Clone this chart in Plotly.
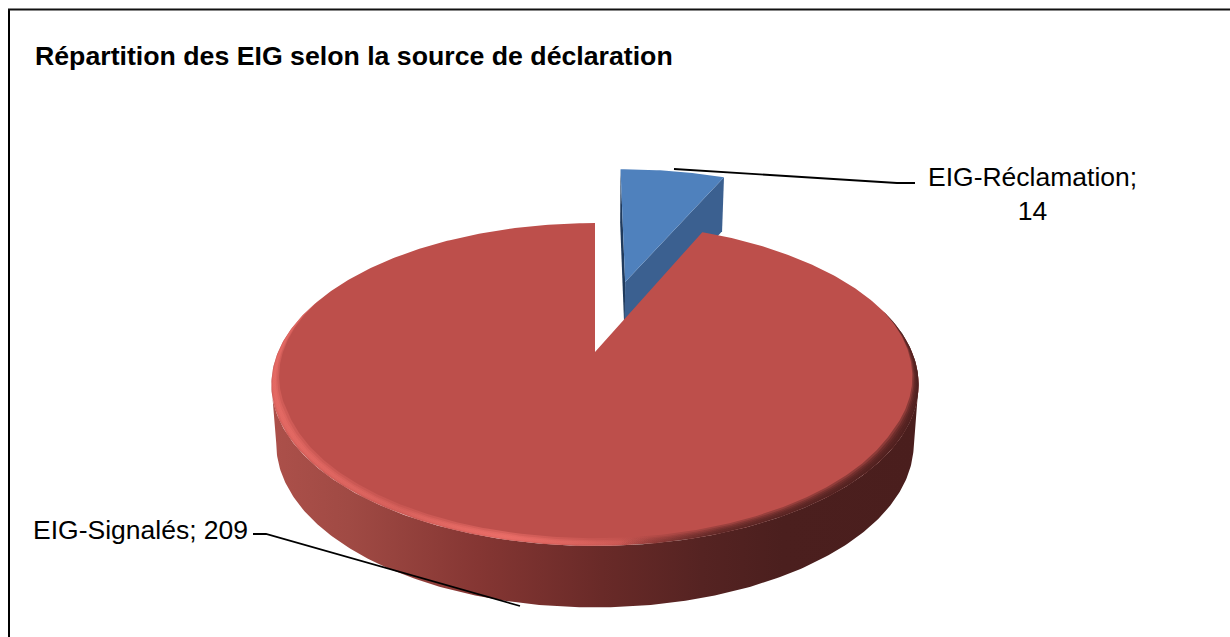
import numpy as np
import plotly.graph_objects as go

CATEGORIES = ["EIG-Réclamation", "EIG-Signalés"]
VALUES = [14, 209]
TITLE = "Répartition des EIG selon la source de déclaration"

# projection of the pie plane onto the page
CX, CY = 595.0, 352.0
A, P, R = 317.0, -84.1, 0.2012
EXPLODE = 0.507
BLUE_RADIUS = 1.05
BLUE_DX = 1.5
CUT_PAD = 0.018
BOTTOM_SHRINK = 0.985

total = sum(VALUES)
blue_sweep = 2 * np.pi * VALUES[0] / total


def proj(u, v):
    d = 1 + R * v
    return CX + A * u / d, (P * v + CY) / d


def wall_down(u, v):
    x, y = proj(u, v)
    return CX + (x - CX) * BOTTOM_SHRINK, y + 58.5 - 3 * v


def rim(a, s=1.0, du=0.0, dv=0.0):
    return s * np.sin(a) + du, s * np.cos(a) + dv


fig = go.Figure()


def poly(x, y, color=None, gradient=None):
    x = np.r_[x, x[0]]
    y = np.r_[y, y[0]]
    kw = dict(fillgradient=gradient) if gradient else dict(fillcolor=color)
    fig.add_trace(go.Scatter(x=x, y=y, mode="lines", fill="toself",
                             line=dict(width=0), hoverinfo="skip",
                             showlegend=False, **kw))


# exploded small slice
mid = blue_sweep / 2
du, dv = EXPLODE * np.sin(mid), EXPLODE * np.cos(mid)
arc = np.linspace(0, blue_sweep + CUT_PAD, 30)
bu, bv = rim(arc, BLUE_RADIUS, du, dv)
ax, ay = proj(du, dv)
bx, by = proj(bu, bv)
bxs, axs = bx + BLUE_DX, ax + BLUE_DX
dx0, dy0 = wall_down(bu[0], bv[0])
adx, ady = wall_down(du, dv)
poly(np.array([bxs[0], axs, adx + BLUE_DX, dx0 + BLUE_DX]), np.array([by[0], ay, ady, dy0]), "#1f3a5c")
dx1, dy1 = wall_down(bu[-1], bv[-1])
poly(np.array([axs, bxs[-1], dx1 + BLUE_DX, adx + BLUE_DX]), np.array([ay, by[-1], dy1, ady]), "#3b6090")
poly(np.r_[axs, bxs], np.r_[ay, by], "#4f81bd")

# side wall of big slice
front = np.linspace(np.pi / 2 + 0.2, 3 * np.pi / 2 - 0.2, 240)
fu, fv = rim(front)
tx, ty = proj(fu, fv)
lx, ly = wall_down(fu, fv)
poly(np.r_[tx, lx[::-1]], np.r_[ty, ly[::-1]],
     gradient=dict(type="horizontal", colorscale=[
         [0.0, "#ac504a"], [0.12, "#a04a44"], [0.32, "#853633"],
         [0.51, "#692a28"], [0.665, "#552322"], [0.79, "#4b1f1e"], [1.0, "#4a1e1d"]]))

# top of big slice
red_arc = np.linspace(blue_sweep + CUT_PAD, 2 * np.pi, 500)
ru, rv = rim(red_arc)
rx, ry = proj(ru, rv)
poly(np.r_[CX, rx], np.r_[CY, ry], "#bd4f4b")


def band(s1, s2, stops, rgb):
    angs = np.linspace(np.radians(74), np.radians(292), 360)
    taper = np.clip(np.minimum(angs - angs[0], angs[-1] - angs) / np.radians(45), 0, 1)
    s_in = 1 - (1 - s1) * taper
    s_out = 1 - (1 - s2) * taper
    u1, v1 = rim(angs, s_in)
    u2, v2 = rim(angs, s_out)
    x1, y1 = proj(u1, v1)
    x2, y2 = proj(u2, v2)
    xmin = min(x1.min(), x2.min())
    xmax = max(x1.max(), x2.max())
    scale = [[float(np.clip((px - xmin) / (xmax - xmin), 0, 1)), f"rgba({rgb},{a})"]
             for px, a in stops]
    scale[0][0], scale[-1][0] = 0.0, 1.0
    poly(np.r_[x1, x2[::-1]], np.r_[y1, y2[::-1]],
         gradient=dict(type="horizontal", colorscale=scale))


light = [(270, 0.4), (400, 0.22), (505, 0.55), (580, 0.25), (650, 0.0), (920, 0.0)]
for s1, s2 in [(0.968, 1.0), (0.976, 0.998), (0.982, 0.994)]:
    band(s1, s2, light, "238,112,106")
dark = [(270, 0.0), (620, 0.0), (720, 0.28), (850, 0.4), (920, 0.45)]
for s1, s2 in [(0.968, 1.0), (0.975, 1.0), (0.981, 1.0), (0.987, 1.0), (0.994, 1.0)]:
    band(s1, s2, dark, "74,30,29")

# leader lines
for lx_, ly_ in [([674, 897, 915], [169, 183, 183]), ([253, 266, 520], [534, 534, 606])]:
    fig.add_trace(go.Scatter(x=lx_, y=ly_, mode="lines",
                             line=dict(color="#000000", width=1.8),
                             hoverinfo="skip", showlegend=False))

FONT = "Liberation Sans, Arial, sans-serif"
fig.add_annotation(x=33, y=56, text=f"<b>{TITLE}</b>", showarrow=False, xanchor="left",
                   yanchor="middle", font=dict(family=FONT, size=26.7, color="#000000"))
fig.add_annotation(x=1032, y=194, text=f"{CATEGORIES[0]};<br>{VALUES[0]}", showarrow=False,
                   xanchor="center", yanchor="middle", align="center",
                   font=dict(family=FONT, size=26.5, color="#000000"))
fig.add_annotation(x=31, y=530, text=f"{CATEGORIES[1]}; {VALUES[1]}", showarrow=False,
                   xanchor="left", yanchor="middle",
                   font=dict(family=FONT, size=26.5, color="#000000"))

fig.update_layout(
    width=1230, height=637, margin=dict(l=0, r=0, t=0, b=0),
    paper_bgcolor="white", plot_bgcolor="white", showlegend=False,
    xaxis=dict(range=[0, 1230], visible=False, fixedrange=True),
    yaxis=dict(range=[637, 0], visible=False, fixedrange=True),
    shapes=[
        dict(type="line", x0=9, x1=9, y0=9.5, y1=637, line=dict(color="#000", width=2)),
        dict(type="line", x0=8, x1=1230, y0=9.5, y1=9.5, line=dict(color="#111", width=2)),
    ],
)
fig.write_html("out.html", config=dict(displayModeBar=False),
               post_script="document.body.style.margin='0';document.body.style.overflow='hidden';")
